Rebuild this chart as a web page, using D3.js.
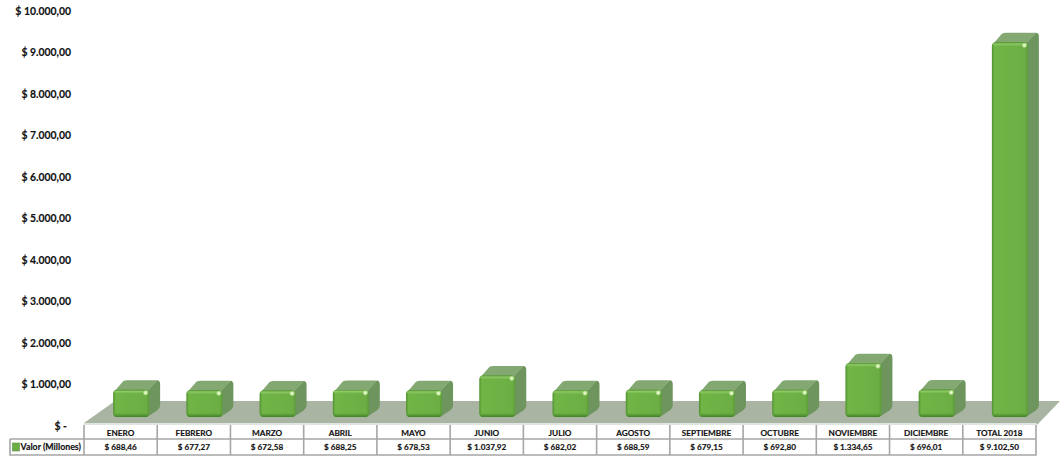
<!DOCTYPE html>
<html>
<head>
<meta charset="utf-8">
<script src="https://cdn.jsdelivr.net/npm/d3@7"></script>
<style>
  html, body { margin: 0; padding: 0; background: #fff; }
  text { font-family: Lato, "Open Sans", sans-serif; font-weight: 700; fill: #111; stroke: #111; stroke-width: 0.15px; }
</style>
</head>
<body>
<div id="chart"></div>
<script>
const months = ["ENERO", "FEBRERO", "MARZO", "ABRIL", "MAYO", "JUNIO", "JULIO", "AGOSTO",
  "SEPTIEMBRE", "OCTUBRE", "NOVIEMBRE", "DICIEMBRE", "TOTAL 2018"];
const values = [688.46, 677.27, 672.58, 688.25, 678.53, 1037.92, 682.02, 688.59,
  679.15, 692.8, 1334.65, 696.01, 9102.5];
const seriesName = "Valor (Millones)";
const yTicks = [0, 1000, 2000, 3000, 4000, 5000, 6000, 7000, 8000, 9000, 10000];

const width = 1060, height = 456;
const table = { left: 84, right: 1036, top: 425, mid: 439, bottom: 455, keyLeft: 10 };
const depthX = 11, depthY = 9.5, barW = 36, barShift = 10.5, r = 4;

const locale = d3.formatLocale({ decimal: ",", thousands: ".", grouping: [3], currency: ["$ ", ""] });
const money = locale.format("$,.2f");

const svg = d3.select("#chart").append("svg").attr("width", width).attr("height", height)
  .style("display", "block");

const defs = svg.append("defs");
const front = defs.append("linearGradient").attr("id", "front");
[[0, "#4f9130"], [0.07, "#70b546"], [0.92, "#6cae44"], [1, "#5a9c37"]].forEach(s =>
  front.append("stop").attr("offset", s[0]).attr("stop-color", s[1]));
const lower = defs.append("linearGradient").attr("id", "lower").attr("x2", 0).attr("y2", 1);
[[0, "#3f7f24", 0], [1, "#3f7f24", 0.95]].forEach(s =>
  lower.append("stop").attr("offset", s[0]).attr("stop-color", s[1]).attr("stop-opacity", s[2]));
const upper = defs.append("linearGradient").attr("id", "upper").attr("x2", 0).attr("y2", 1);
[[0, "#4f9130", 1], [0.4, "#93cc6a", 0.9], [1, "#8cc665", 0]].forEach(s =>
  upper.append("stop").attr("offset", s[0]).attr("stop-color", s[1]).attr("stop-opacity", s[2]));
const glow = defs.append("radialGradient").attr("id", "glow");
[[0, "#f2ffdf", 1], [0.5, "#d6f2b4", 0.9], [1, "#a5d97a", 0]].forEach(s =>
  glow.append("stop").attr("offset", s[0]).attr("stop-color", s[1]).attr("stop-opacity", s[2]));

// y axis labels
const yLabel = d3.scaleLinear().domain([0, 10000]).range([426, 11]);
// bars sit on the floor, a little in front of the axis
const yBar = d3.scaleLinear().domain([0, 10000]).range([418.3, 5.3]);
const x = d3.scaleBand().domain(months).range([table.left, table.right]);

const yAxis = d3.axisLeft(yLabel).tickValues(yTicks).tickSize(0).tickPadding(0)
  .tickFormat(d => d === 0 ? "$ -" : money(d));
svg.append("g").attr("transform", "translate(71,0)").call(yAxis)
  .call(g => g.select(".domain").remove())
  .selectAll("text").attr("font-size", 10.4).style("font-family", "Lato").style("font-weight", 700)
  .attr("dx", d => d === 0 ? -4 : 0);

// floor
const floorBack = 401, floorFront = table.top - 2;
svg.append("rect").attr("x", table.left).attr("y", floorFront).attr("width", table.right - table.left)
  .attr("height", 2).attr("fill", "#dfe6df");
svg.append("path")
  .attr("d", `M${table.left},${floorFront}L${table.left + 31},${floorBack}H${width}L${table.right + 1},${floorFront + 2}L${table.right},${floorFront}Z`)
  .attr("fill", "#a9b5a2");

// bars
const bars = svg.append("g").selectAll("g").data(months).join("g")
  .attr("transform", d => `translate(${x(d) + x.bandwidth() / 2 + barShift - barW / 2},0)`);

const base = yBar(0) - 1.3;
const topOf = i => yBar(values[i]);

bars.append("path") // side
  .attr("d", (d, i) => `M${barW - 2},${topOf(i) + 1}L${barW + depthX - 3},${topOf(i) - depthY}Q${barW + depthX},${topOf(i) - depthY} ${barW + depthX},${topOf(i) - depthY + 4}V${base - depthY - 2}Q${barW + depthX},${base - depthY + 1} ${barW + depthX - 3},${base - depthY + 3}L${barW - 2},${base}Z`)
  .attr("fill", "#6f955f");
bars.append("path") // top
  .attr("d", (d, i) => `M1,${topOf(i) + 2}L${depthX - 1},${topOf(i) - depthY + 1}Q${depthX + 1},${topOf(i) - depthY} ${depthX + 3},${topOf(i) - depthY}H${barW + depthX - 3}L${barW - 2},${topOf(i) + 2}Z`)
  .attr("fill", "#83a871");
bars.append("rect") // front
  .attr("width", barW).attr("rx", r)
  .attr("y", (d, i) => topOf(i)).attr("height", (d, i) => base - topOf(i))
  .attr("fill", "url(#front)");
bars.append("rect") // bevel along the top
  .attr("x", 1).attr("width", barW - 2).attr("rx", r - 1)
  .attr("y", (d, i) => topOf(i)).attr("height", 4)
  .attr("fill", "url(#upper)");
bars.append("rect") // bevel along the bottom
  .attr("x", 1).attr("width", barW - 2).attr("rx", r - 1)
  .attr("y", base - 4).attr("height", 4)
  .attr("fill", "url(#lower)");
bars.append("circle") // highlight
  .attr("cx", barW - 3.5).attr("cy", (d, i) => topOf(i) + 3).attr("r", 3)
  .attr("fill", "url(#glow)");

// data table
const grid = svg.append("g").attr("stroke", "#a6a6a6").attr("stroke-width", 1.6).attr("fill", "none");
grid.append("path").attr("d",
  `M${table.left},${table.top}V${table.bottom}M${table.keyLeft},${table.mid}H${table.right}` +
  `M${table.keyLeft},${table.mid}V${table.bottom}H${table.right}V${table.top}`);
grid.selectAll("line").data(months.slice(1)).join("line")
  .attr("x1", d => x(d)).attr("x2", d => x(d)).attr("y1", table.top).attr("y2", table.bottom);

const cell = svg.append("g").attr("text-anchor", "middle").attr("font-size", 8.2);
cell.selectAll(".month").data(months).join("text").attr("class", "month")
  .attr("x", d => x(d) + x.bandwidth() / 2).attr("y", table.top + 10.5).text(d => d);
cell.selectAll(".value").data(values).join("text").attr("class", "value")
  .attr("x", (d, i) => x(months[i]) + x.bandwidth() / 2).attr("y", table.mid + 11).text(d => money(d));

svg.append("rect").attr("x", table.keyLeft + 2.5).attr("y", table.mid + 4).attr("width", 7).attr("height", 8)
  .attr("fill", "#6cae44").attr("stroke", "#5c8a45").attr("stroke-width", 0.6);
svg.append("text").attr("x", table.keyLeft + 10.5).attr("y", table.mid + 10.5).attr("font-size", 8.8).text(seriesName);
</script>
</body>
</html>
